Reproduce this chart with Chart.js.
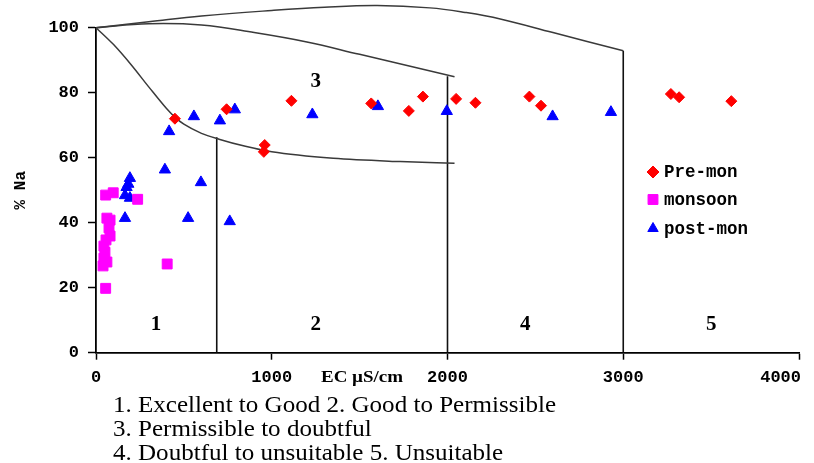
<!DOCTYPE html>
<html>
<head>
<meta charset="utf-8">
<script src="https://cdn.jsdelivr.net/npm/chart.js@4.4.1/dist/chart.umd.min.js"></script>
<style>
  html, body { margin: 0; padding: 0; background: #fff; }
</style>
</head>
<body>
<canvas id="chart" width="814" height="463"></canvas>
<script>
// scatter series (EC in uS/cm, %Na)
const preMonEC = [449, 743, 960, 955, 1112, 1566, 1780, 1860, 2049, 2159, 2466, 2532, 3271, 3318, 3615];
const preMonNa = [72.0, 74.9, 63.9, 61.8, 77.5, 76.7, 74.4, 78.8, 78.1, 76.9, 78.8, 76.0, 79.6, 78.6, 77.4];

const monsoonEC = [55, 98, 237, 62, 80, 74, 80, 57, 45, 51, 45, 40, 62, 55, 405];
const monsoonNa = [48.5, 49.2, 47.2, 41.4, 40.8, 38.4, 35.9, 34.7, 32.8, 30.9, 29.1, 26.7, 27.9, 19.8, 27.3];

const postMonEC = [416, 557, 705, 790, 392, 597, 193, 184, 174, 165, 193, 165, 524, 761, 1231, 1604, 1996, 2598, 2930];
const postMonNa = [68.1, 72.7, 71.4, 74.8, 56.3, 52.4, 53.7, 51.9, 50.9, 48.4, 47.6, 41.4, 41.4, 40.4, 73.3, 75.8, 74.3, 72.7, 74.0];

// Wilcox boundary curves
const outerEC = [0, 300, 600, 1000, 1300, 1600, 1900, 2100, 2300, 2600, 3000];
const outerNa = [100, 101.8, 103.6, 105.3, 106.3, 106.8, 106.1, 104.7, 102.7, 98.5, 92.9];
const upperEC = [0, 300, 600, 900, 1200, 1500, 1800, 2040];
const upperNa = [100, 101.2, 100.8, 98.5, 95.6, 91.8, 88, 84.9];
const lowerEC = [0, 100, 200, 300, 400, 450, 500, 600, 700, 850, 1000, 1350, 1730, 2040];
const lowerNa = [100, 94.8, 88.6, 81.8, 75.2, 72.4, 70.3, 67.5, 65.7, 63.5, 61.8, 59.8, 58.8, 58.3];

// vertical class limits
const limitEC = [687, 2000, 3000];
const limitTop = [66.3, 85.1, 92.9];

const zoneNames = ['1', '2', '3', '4', '5'];
const zoneEC = [341, 1250, 1250, 2443, 3500];
const zoneNa = [8.8, 8.8, 83.4, 8.8, 8.8];

const seriesNames = ['Pre-mon', 'monsoon', 'post-mon'];
const notes = [
  '1. Excellent to Good 2. Good to Permissible',
  '3. Permissible to doubtful',
  '4. Doubtful to unsuitable 5. Unsuitable'
];

const pts = (xs, ys) => xs.map((v, i) => ({ x: v, y: ys[i] }));

const curve = (xs, ys, mode) => ({
  data: pts(xs, ys),
  showLine: true,
  borderColor: '#3a3a3a',
  borderWidth: 1.5,
  pointRadius: 0,
  tension: 0.4,
  cubicInterpolationMode: mode || 'default',
  clip: false
});

const limit = (i) => ({
  data: [{ x: limitEC[i], y: 0 }, { x: limitEC[i], y: limitTop[i] }],
  showLine: true,
  borderColor: '#111',
  borderWidth: 1.6,
  pointRadius: 0
});

const markers = [
  { style: 'rectRot', color: '#ff0000', r: 5.5 },
  { style: 'rect', color: '#ff00ff', r: 7 },
  { style: 'triangle', color: '#0000ff', r: 6.5 }
];

const series = (i, xs, ys) => ({
  label: seriesNames[i],
  data: pts(xs, ys),
  pointStyle: markers[i].style,
  pointRadius: markers[i].r,
  backgroundColor: markers[i].color,
  borderColor: markers[i].color,
  borderWidth: 1
});

const fitText = (ctx, text, x0, base, width) => {
  const w = ctx.measureText(text).width;
  ctx.save();
  ctx.translate(x0, base);
  ctx.scale(width / w, 1);
  ctx.fillText(text, 0, 0);
  ctx.restore();
};

const extras = {
  id: 'extras',
  afterDraw(chart) {
    const { ctx, scales: { x, y } } = chart;
    ctx.save();
    ctx.fillStyle = '#000';

    // x tick labels, last one kept inside the canvas
    ctx.font = 'bold 17px "Liberation Mono"';
    ctx.textAlign = 'left';
    ctx.textBaseline = 'middle';
    x.ticks.forEach((t) => {
      const s = String(t.value);
      const w = ctx.measureText(s).width;
      const left = Math.min(x.getPixelForValue(t.value) - w / 2, 801 - w);
      ctx.fillText(s, left, 378);
    });

    ctx.font = 'bold 21px "Liberation Serif"';
    ctx.textAlign = 'center';
    zoneNames.forEach((t, i) => ctx.fillText(t, x.getPixelForValue(zoneEC[i]), y.getPixelForValue(zoneNa[i])));

    ctx.textAlign = 'left';
    ctx.textBaseline = 'alphabetic';
    ctx.font = 'bold 16px "Liberation Serif"';
    fitText(ctx, 'EC \u00b5S/cm', 321, 382, 82);

    ctx.font = '23px "Liberation Serif"';
    const sx = 443 / ctx.measureText(notes[0]).width;
    notes.forEach((t, i) => {
      ctx.save();
      ctx.translate(113, 412 + i * 24);
      ctx.scale(sx, 1);
      ctx.fillText(t, 0, 0);
      ctx.restore();
    });

    // legend
    const rows = [172, 199.5, 228.5];
    ctx.font = 'bold 17.5px "Liberation Mono"';
    seriesNames.forEach((t, i) => {
      const m = markers[i];
      ctx.fillStyle = m.color;
      ctx.strokeStyle = m.color;
      Chart.helpers.drawPoint(ctx, { pointStyle: m.style, radius: m.style === 'rect' ? 7 : 6, rotation: 0, borderWidth: 1 }, 653, rows[i]);
      ctx.fillStyle = '#000';
      ctx.fillText(t, 664, rows[i] + 5);
    });
    ctx.restore();
  }
};

const tickFont = { family: 'Liberation Mono', size: 17, weight: 'bold' };

new Chart(document.getElementById('chart'), {
  type: 'scatter',
  data: {
    datasets: [
      series(0, preMonEC, preMonNa),
      series(1, monsoonEC, monsoonNa),
      series(2, postMonEC, postMonNa),
      curve(outerEC, outerNa),
      curve(upperEC, upperNa),
      curve(lowerEC, lowerNa, 'monotone'),
      limit(0), limit(1), limit(2)
    ]
  },
  options: {
    responsive: false,
    animation: false,
    layout: { padding: { left: 0, right: 15, top: 27.7, bottom: 0 } },
    plugins: { legend: { display: false }, tooltip: { enabled: false } },
    scales: {
      x: {
        min: 0, max: 4000,
        ticks: { stepSize: 1000, display: false },
        grid: { drawOnChartArea: false, drawTicks: true, tickLength: 7, color: '#000', tickWidth: 1.5 },
        border: { display: true, color: '#000', width: 1.8 },
        afterFit: (s) => { s.height = 110.3; s.paddingLeft = 0; s.paddingRight = 0; }
      },
      y: {
        min: 0, max: 100,
        ticks: { stepSize: 20, color: '#000', font: tickFont, padding: 9 },
        grid: { drawOnChartArea: false, drawTicks: true, tickLength: 8, color: '#000', tickWidth: 1.5 },
        border: { display: true, color: '#000', width: 1.8 },
        title: { display: true, text: '% Na', color: '#000', font: { family: 'Liberation Mono', size: 16, weight: 'bold' }, padding: 11 },
        afterFit: (s) => { s.width = 96; s.paddingTop = 0; s.paddingBottom = 0; }
      }
    }
  },
  plugins: [extras]
});
</script>
</body>
</html>
